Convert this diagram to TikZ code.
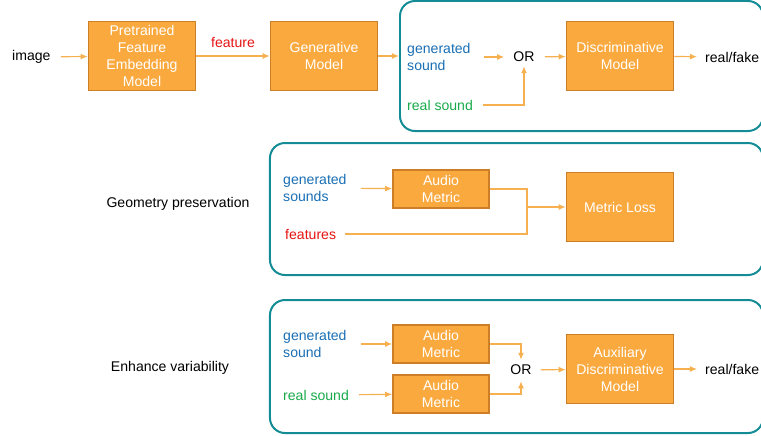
\documentclass[tikz,border=0pt]{standalone}
\usepackage{fontspec}
\setmainfont{Liberation Sans}
\usetikzlibrary{arrows.meta}

\definecolor{boxfill}{RGB}{250,169,62}
\definecolor{boxline}{RGB}{205,127,40}
\definecolor{flowline}{RGB}{247,176,80}
\definecolor{panelline}{RGB}{20,140,150}
\definecolor{genblue}{RGB}{25,110,180}
\definecolor{realgreen}{RGB}{25,170,75}
\definecolor{featred}{RGB}{230,20,20}

\begin{document}
\begin{tikzpicture}[x=0.03cm, y=-0.03cm,
    font=\fontsize{12}{14.5}\selectfont,
    block/.style={rectangle, draw=boxline, fill=boxfill, line width=1.3pt, text=white, align=center, inner sep=0pt},
    bigblock/.style={block, minimum width=3.21cm, minimum height=2.07cm},
    smallblock/.style={block, minimum width=2.88cm, minimum height=1.14cm},
    lbl/.style={inner sep=0pt, align=left},
    panel/.style={draw=panelline, line width=1.7pt, rounded corners=0.45cm, inner sep=0pt},
    link/.style={draw=flowline, line width=1pt},
    flow/.style={link, -{Latex[length=6pt, width=5pt]}}]
      \useasboundingbox (0,0) rectangle (761,435);
      \clip (0,0) rectangle (761,435);

      % Panels
      \node[panel, minimum width=10.89cm, minimum height=3.9cm] at (581.5,66) (p1) {};
      \node[panel, minimum width=14.79cm, minimum height=3.96cm] at (516.5,209) (p2) {};
      \node[panel, minimum width=14.79cm, minimum height=3.99cm] at (516.5,366.5) (p3) {};

      % Nodes: generation and adversarial branch
      \node[lbl, anchor=west] at (12,57) (img) {image};
      \node[bigblock] at (142,56) (pfem) {Pretrained\\Feature\\Embedding\\Model};
      \node[bigblock] at (324,56) (gen) {Generative\\Model};
      \node[lbl, anchor=west, text=genblue] at (407,57) (gs1) {generated\\sound};
      \node[lbl] at (524,57) (or1) {OR};
      \node[lbl, anchor=west, text=realgreen] at (407,105) (rs1) {real sound};
      \node[bigblock] at (620,56) (disc) {Discriminative\\Model};
      \node[lbl, anchor=west] at (705,57) (rf1) {real/fake};

      \draw[flow, shorten <=0.3cm] (img) -- (pfem);
      \draw[flow] (pfem) -- node[above=3pt, text=featred] {feature} (gen);
      \draw[flow] (gen) -- (gen -| p1.west);
      \draw[flow, shorten <=0.39cm, shorten >=0.27cm] (gs1) -- (or1);
      \draw[flow, shorten <=0.3cm, shorten >=0.12cm] (rs1) -| (or1);
      \draw[flow, shorten <=0.3cm] (or1) -- (disc);
      \draw[flow, shorten >=0.24cm] (disc) -- (rf1);

      % Nodes: geometry preservation
      \node[lbl] at (178,204) (geo) {Geometry preservation};
      \node[lbl, anchor=west, text=genblue] at (283,188) (gs2) {generated\\sounds};
      \node[lbl, anchor=west, text=featred] at (285,234) (feat2) {features};
      \node[smallblock] at (441,189) (am1) {Audio\\Metric};
      \node[bigblock] at (620,207) (ml) {Metric Loss};
      \coordinate (j1) at (527,207);

      \draw[flow, shorten <=0.42cm] (gs2) -- (am1);
      \draw[link] (am1) -| (j1);
      \draw[link, shorten <=0.27cm] (feat2) -| (j1);
      \draw[flow] (j1) -- (ml);

      % Nodes: enhance variability
      \node[lbl] at (170,368) (enh) {Enhance variability};
      \node[lbl, anchor=west, text=genblue] at (283,344) (gs3) {generated\\sound};
      \node[lbl, anchor=west, text=realgreen] at (283,395) (rs3) {real sound};
      \node[smallblock] at (441,344) (am2) {Audio\\Metric};
      \node[smallblock] at (441,394) (am3) {Audio\\Metric};
      \node[lbl] at (521,370) (or3) {OR};
      \node[bigblock] at (620,369) (aux) {Auxiliary\\Discriminative\\Model};
      \node[lbl, anchor=west] at (705,369) (rf3) {real/fake};

      \draw[flow, shorten <=0.42cm] (gs3) -- (am2);
      \draw[flow, shorten <=0.3cm] (rs3) -- (am3);
      \draw[flow, shorten >=0.15cm] (am2) -| (or3);
      \draw[flow, shorten >=0.18cm] (am3) -| (or3);
      \draw[flow, shorten <=0.27cm] (or3) -- (aux);
      \draw[flow, shorten >=0.24cm] (aux) -- (rf3);
    \end{tikzpicture}
\end{document}
